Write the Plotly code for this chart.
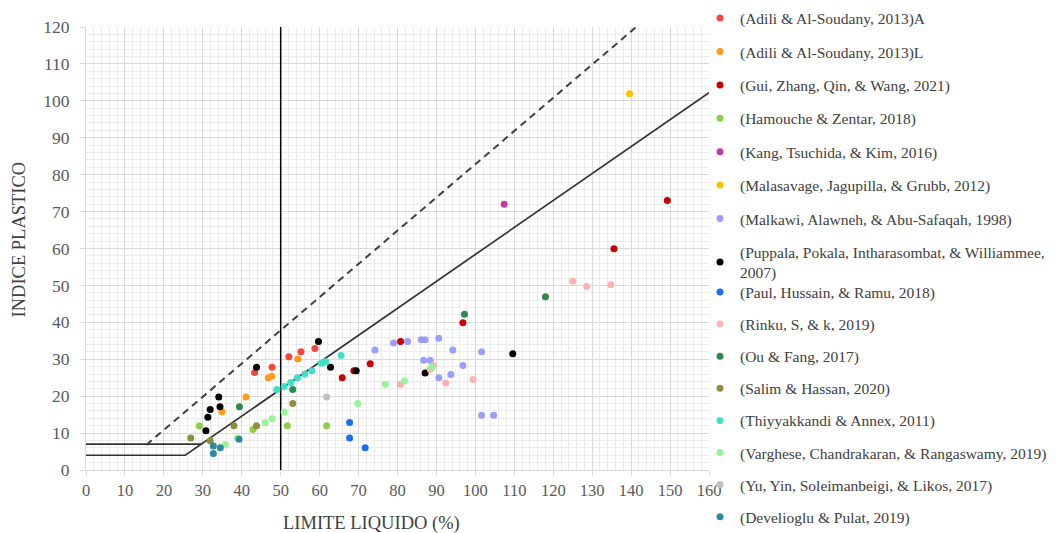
import plotly.graph_objects as go

# ---------------- data (LL %, PI %) ----------------
ADILI_A_LL = [43.3, 47.8, 52.1, 55.2, 58.8]
ADILI_A_PI = [26.4, 27.8, 30.7, 32.0, 32.9]

ADILI_L_LL = [34.9, 41.1, 46.8, 47.7, 54.4]
ADILI_L_PI = [15.8, 19.8, 25.0, 25.4, 30.1]

GUI_LL = [65.8, 68.8, 73.0, 80.8, 96.8, 135.6, 149.3]
GUI_PI = [25.0, 26.9, 28.8, 34.8, 39.9, 59.9, 73.0]

HAMOUCHE_LL = [29.1, 42.9, 51.7, 61.8]
HAMOUCHE_PI = [11.9, 11.0, 12.0, 12.0]

KANG_LL = [107.4]
KANG_PI = [72.0]

MALASAVAGE_LL = [139.6]
MALASAVAGE_PI = [101.9]

MALKAWI_LL = [74.2, 79.0, 82.6, 86.1, 87.1, 90.6, 94.2, 101.6, 86.7, 88.4, 96.8, 90.6, 93.7, 101.6, 104.7]
MALKAWI_PI = [32.5, 34.4, 34.8, 35.3, 35.3, 35.7, 32.5, 32.0, 29.7, 29.7, 28.3, 25.0, 25.9, 14.8, 14.8]

PUPPALA_LL = [30.8, 31.3, 31.9, 34.1, 34.4, 43.8, 59.7, 62.8, 69.4, 87.1, 109.6]
PUPPALA_PI = [10.6, 14.3, 16.4, 19.8, 17.1, 27.8, 34.8, 27.8, 26.9, 26.3, 31.5]

PAUL_LL = [67.7, 67.7, 71.7]
PAUL_PI = [12.9, 8.7, 6.0]

RINKU_LL = [80.8, 88.4, 89.2, 92.4, 99.4, 125.0, 128.6, 134.8]
RINKU_PI = [23.2, 27.3, 28.3, 23.6, 24.5, 51.1, 49.7, 50.2]

OU_LL = [39.4, 53.1, 97.2, 118.0]
OU_PI = [17.1, 21.8, 42.2, 46.9]

SALIM_LL = [26.9, 31.9, 38.0, 43.8, 53.1]
SALIM_PI = [8.7, 7.9, 12.0, 12.0, 18.0]

THIYY_LL = [49.0, 50.9, 52.6, 54.3, 56.2, 58.0, 60.4, 61.1, 61.6, 65.5]
THIYY_PI = [21.8, 22.6, 23.7, 25.0, 26.0, 26.9, 28.9, 29.2, 29.3, 31.0]

VARGHESE_LL = [35.8, 38.9, 46.0, 47.8, 50.9, 69.8, 76.9, 81.8, 88.8]
VARGHESE_PI = [6.9, 8.7, 12.8, 13.9, 15.7, 18.0, 23.2, 24.1, 27.8]

YU_LL = [61.8]
YU_PI = [19.8]

DEVELIOGLU_LL = [32.7, 32.7, 34.5, 39.3]
DEVELIOGLU_PI = [6.5, 4.5, 6.0, 8.3]

# Casagrande chart reference lines
A_LINE_LL = [0, 25.5, 60, 100, 130, 140, 160]
A_LINE_PI = [4, 4, 29.2, 58.4, 80.3, 87.7, 102.2]
CL_ML_LL = [0, 29.6]
CL_ML_PI = [7, 7]
U_LINE_LL = [15.5, 141.3]
U_LINE_PI = [6.8, 120]
LL50_LL = [50, 50]
LL50_PI = [0, 120]

X_TICKS = list(range(0, 161, 10))
Y_TICKS = list(range(0, 121, 10))

X_TITLE = "LIMITE LIQUIDO (%)"
Y_TITLE = "INDICE PLASTICO"

SERIES = [
    ("(Adili & Al-Soudany, 2013)A", ADILI_A_LL, ADILI_A_PI, "#f4463c", "legend"),
    ("(Adili & Al-Soudany, 2013)L", ADILI_L_LL, ADILI_L_PI, "#ff9a1a", "legend"),
    ("(Gui, Zhang, Qin, & Wang, 2021)", GUI_LL, GUI_PI, "#c80000", "legend"),
    ("(Hamouche & Zentar, 2018)", HAMOUCHE_LL, HAMOUCHE_PI, "#8fce4a", "legend"),
    ("(Kang, Tsuchida, & Kim, 2016)", KANG_LL, KANG_PI, "#c03ca8", "legend"),
    ("(Malasavage, Jagupilla, & Grubb, 2012)", MALASAVAGE_LL, MALASAVAGE_PI, "#ffc000", "legend"),
    ("(Malkawi, Alawneh, & Abu-Safaqah, 1998)", MALKAWI_LL, MALKAWI_PI, "#9d9dfd", "legend"),
    ("(Puppala, Pokala, Intharasombat, & Williammee,<br>2007)", PUPPALA_LL, PUPPALA_PI, "#000000", "legend"),
    ("(Paul, Hussain, & Ramu, 2018)", PAUL_LL, PAUL_PI, "#1a6ff0", "legend2"),
    ("(Rinku, S, & k, 2019)", RINKU_LL, RINKU_PI, "#ffb0b0", "legend2"),
    ("(Ou & Fang, 2017)", OU_LL, OU_PI, "#2e8b4e", "legend2"),
    ("(Salim & Hassan, 2020)", SALIM_LL, SALIM_PI, "#8e8e3c", "legend2"),
    ("(Thiyyakkandi & Annex, 2011)", THIYY_LL, THIYY_PI, "#3ee0c8", "legend2"),
    ("(Varghese, Chandrakaran, & Rangaswamy, 2019)", VARGHESE_LL, VARGHESE_PI, "#96f596", "legend2"),
    ("(Yu, Yin, Soleimanbeigi, & Likos, 2017)", YU_LL, YU_PI, "#c0c0c0", "legend2"),
    ("(Develioglu & Pulat, 2019)", DEVELIOGLU_LL, DEVELIOGLU_PI, "#2c8a9a", "legend2"),
]

FONT = "Liberation Serif, Times New Roman, serif"
LEG_FONT = 15.5

fig = go.Figure()

# reference lines
fig.add_trace(go.Scatter(x=LL50_LL, y=LL50_PI, mode="lines", line=dict(color="#000000", width=1.5),
                         showlegend=False, hoverinfo="skip"))
fig.add_trace(go.Scatter(x=U_LINE_LL, y=U_LINE_PI, mode="lines",
                         line=dict(color="#404040", width=2, dash="7px,5px"),
                         showlegend=False, hoverinfo="skip"))
fig.add_trace(go.Scatter(x=A_LINE_LL, y=A_LINE_PI, mode="lines", line=dict(color="#333333", width=1.7),
                         showlegend=False, hoverinfo="skip"))
fig.add_trace(go.Scatter(x=CL_ML_LL, y=CL_ML_PI, mode="lines", line=dict(color="#333333", width=1.7),
                         showlegend=False, hoverinfo="skip"))

for i, (name, xs, ys, color, leg) in enumerate(SERIES):
    fig.add_trace(go.Scatter(
        x=xs, y=ys, mode="markers", name=name,
        marker=dict(color=color, size=7, line=dict(width=0)),
        legend=leg, legendgroup="g%d" % i,
    ))

grid_major = "#d9d9d9"
grid_minor = "#ececec"

# The page adds an 8px body margin, so the figure is sized to the visible area.
fig.update_layout(
    width=1053, height=525,
    margin=dict(l=78, r=352, t=19, b=63, autoexpand=False),
    paper_bgcolor="white", plot_bgcolor="white",
    font=dict(family=FONT, size=16, color="#404040"),
    xaxis=dict(
        range=[0, 160], tickmode="array", tickvals=X_TICKS, ticktext=[str(v) for v in X_TICKS],
        showgrid=True, gridcolor=grid_major, gridwidth=1,
        minor=dict(dtick=2, showgrid=True, gridcolor=grid_minor, gridwidth=1),
        zeroline=False, showline=True, linecolor=grid_major, linewidth=1,
        ticks="outside", ticklen=5, tickcolor=grid_major,
        tickfont=dict(family=FONT, size=16.5, color="#595959"),
        automargin=False,
    ),
    yaxis=dict(
        range=[0, 120], tickmode="array", tickvals=Y_TICKS, ticktext=[str(v) for v in Y_TICKS],
        showgrid=True, gridcolor=grid_major, gridwidth=1,
        minor=dict(dtick=2, showgrid=True, gridcolor=grid_minor, gridwidth=1),
        zeroline=False, showline=True, linecolor=grid_major, linewidth=1,
        ticks="outside", ticklen=5, tickcolor=grid_major, ticklabelstandoff=7,
        tickfont=dict(family=FONT, size=17.5, color="#595959"),
        automargin=False,
    ),
    annotations=[
        dict(text=X_TITLE, xref="paper", yref="paper", x=(371 - 86) / 623, y=(470 - 523) / 443,
             xanchor="center", yanchor="middle", showarrow=False,
             font=dict(family=FONT, size=18.5, color="#404040")),
        dict(text=Y_TITLE, xref="paper", yref="paper", x=(18.5 - 86) / 623, y=(470 - 240) / 443,
             xanchor="center", yanchor="middle", showarrow=False, textangle=-90,
             font=dict(family=FONT, size=18.5, color="#404040")),
    ],
    legend=dict(
        x=(700 - 86) / 623, xanchor="left", y=(470 - 289.5) / 443, yanchor="bottom",
        font=dict(family=FONT, size=LEG_FONT, color="#404040"),
        bgcolor="rgba(0,0,0,0)", tracegroupgap=10.25, itemclick=False,
    ),
    legend2=dict(
        x=(700 - 86) / 623, xanchor="left", y=(470 - 275.4) / 443, yanchor="top",
        font=dict(family=FONT, size=LEG_FONT, color="#404040"),
        bgcolor="rgba(0,0,0,0)", tracegroupgap=8.95, itemclick=False,
    ),
    showlegend=True,
)

fig.write_html("out.html")
